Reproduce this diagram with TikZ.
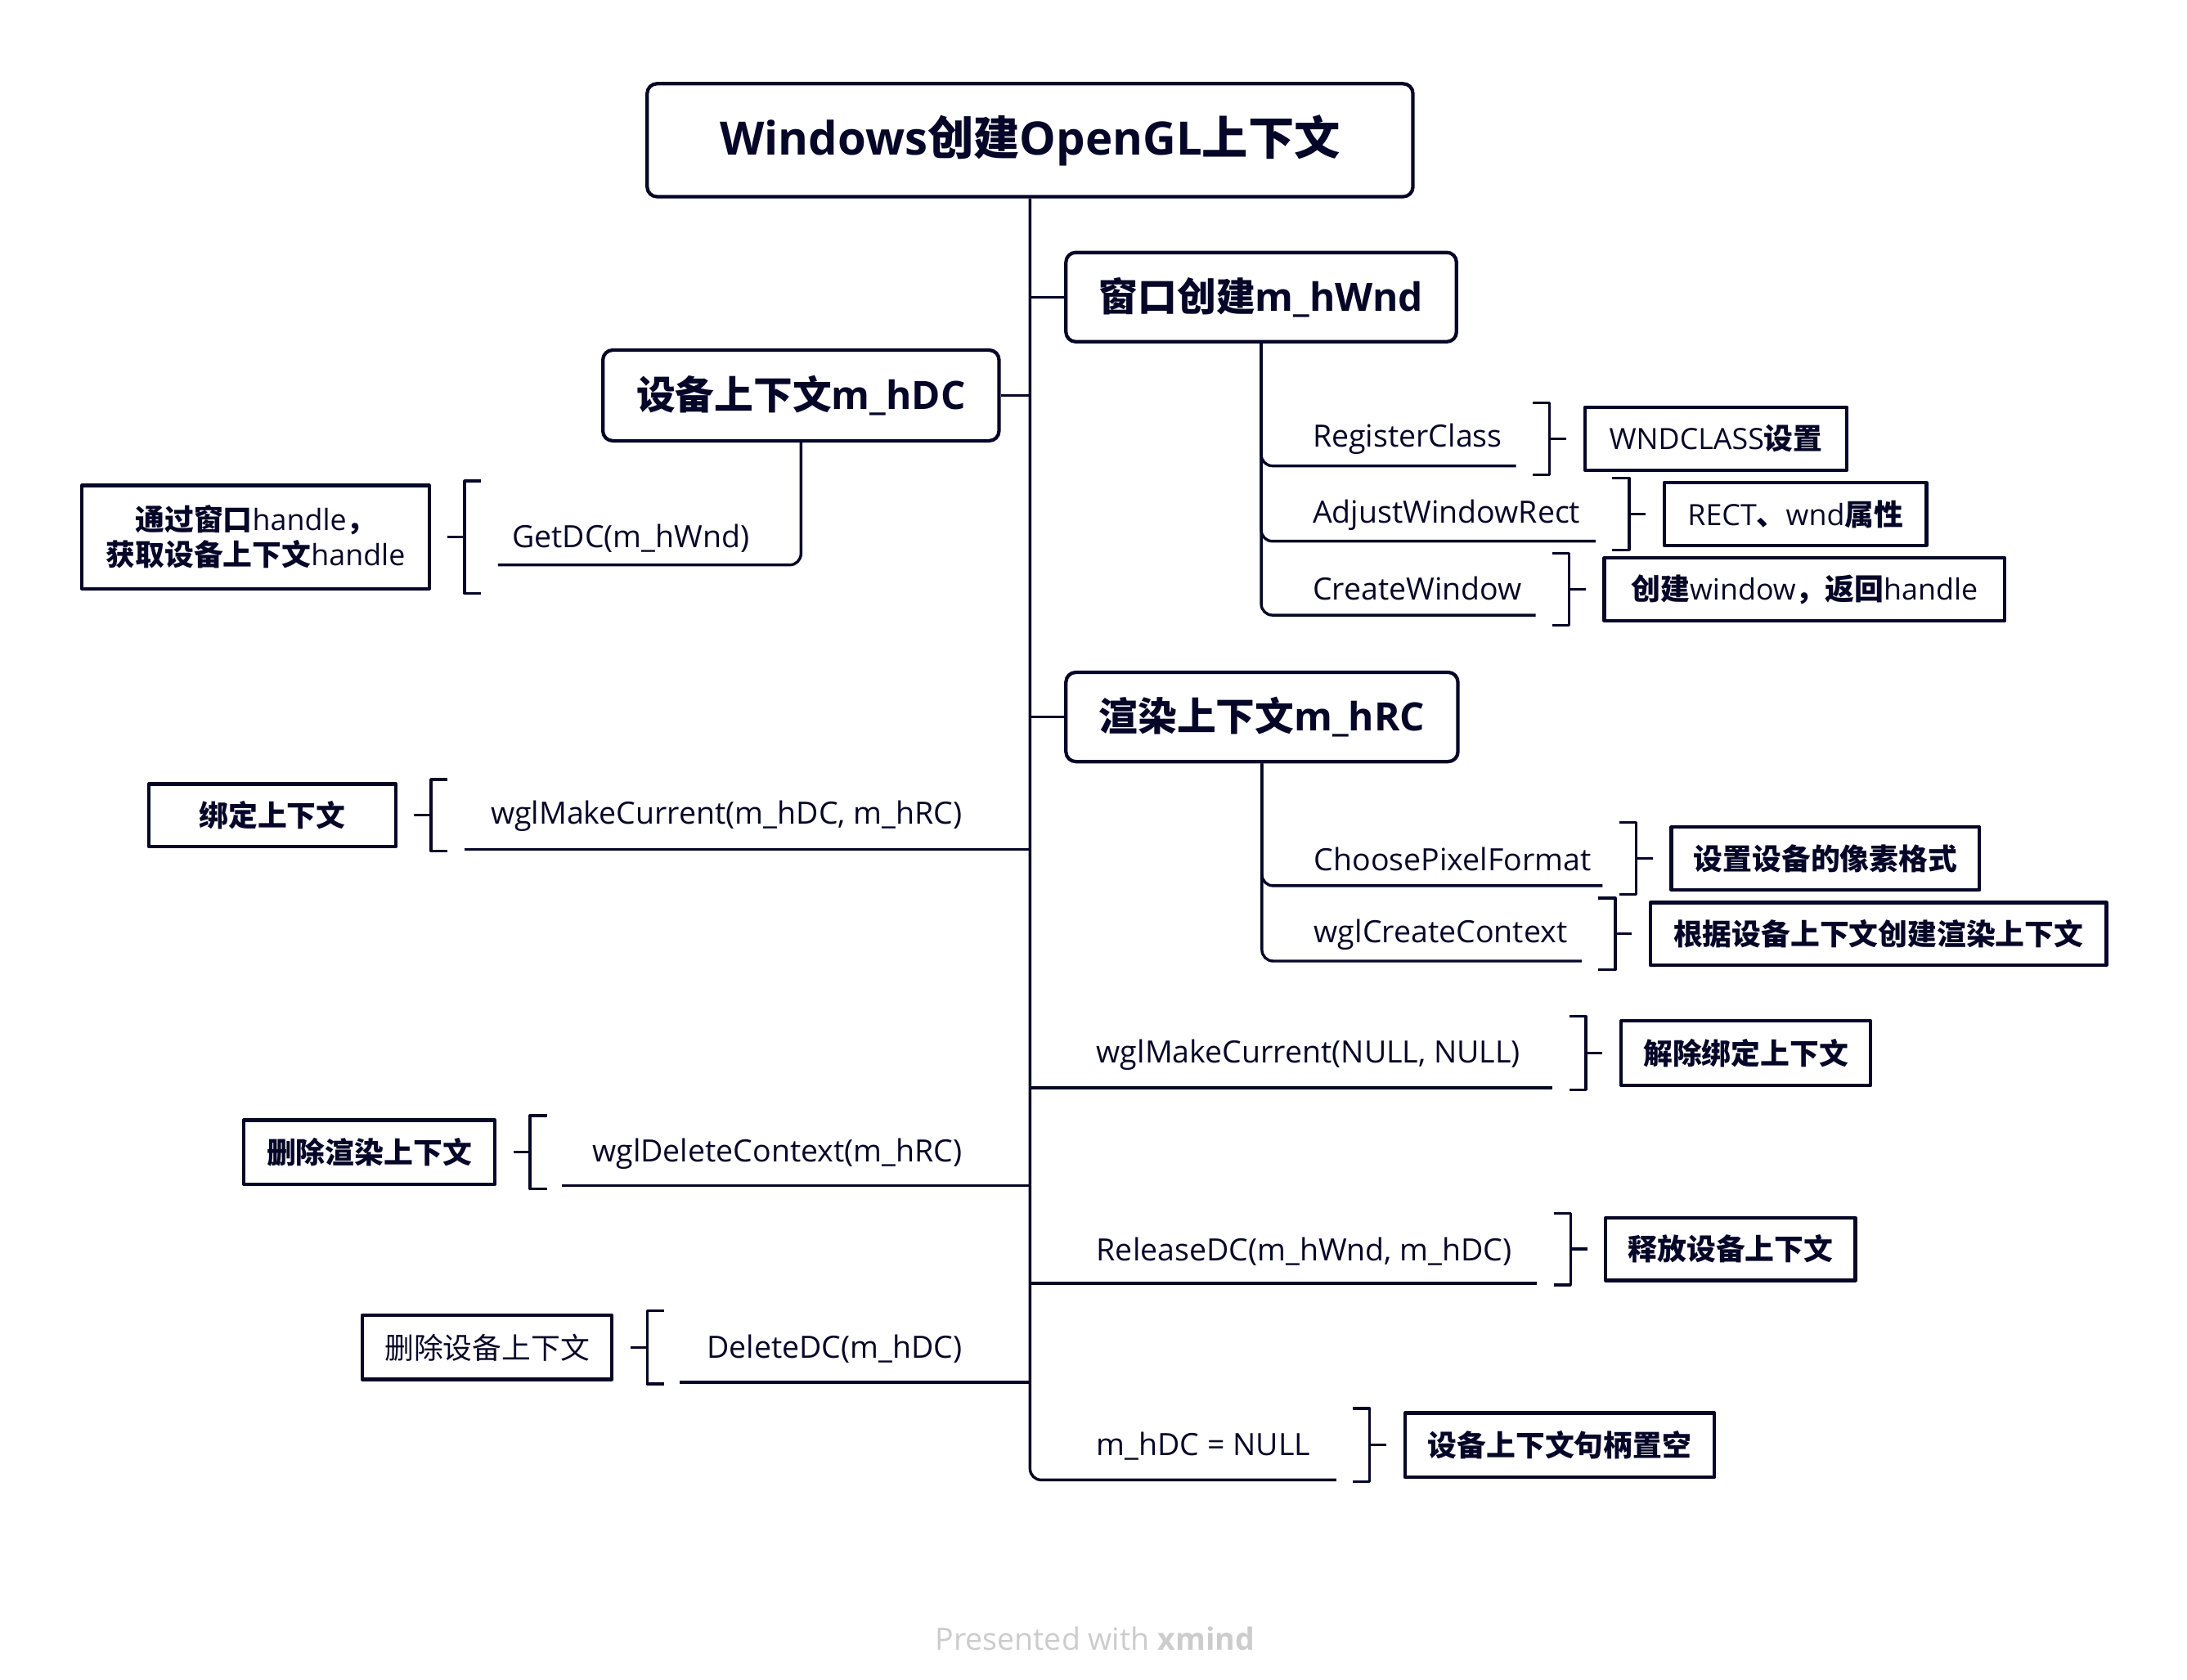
\documentclass[tikz,border=0pt]{standalone}
\usepackage{fontspec}
\setmainfont{Open Sans}
\newfontfamily\zh{Noto Sans CJK SC}
\definecolor{ink}{RGB}{6,6,40}
\definecolor{wmgray}{RGB}{204,204,204}
\newcommand\hz[1]{{\zh\bfseries #1}}
\begin{document}
\begin{tikzpicture}[x=1pt, y=-1pt, line join=round, draw=ink, text=ink,
    root/.style={draw, rounded corners=7pt, line width=2.5pt, minimum width=549pt, minimum height=81pt, font=\fontsize{33}{40}\selectfont\bfseries},
    topic/.style={draw, rounded corners=7pt, line width=2.5pt, minimum height=64pt, anchor=west, font=\fontsize{28}{34}\selectfont\bfseries},
    leaf/.style={inner sep=0pt, font=\fontsize{22}{26}\selectfont},
    note/.style={draw, line width=2.5pt, minimum height=45pt, inner sep=0pt, align=center, font=\fontsize{21}{25}\selectfont},
    wire/.style={line width=2pt, rounded corners=8pt}]
  \useasboundingbox (0,0) rectangle (1568,1204);
  \node[root] (root) at (738.5,100.5) {Windows{\zh 创建}OpenGL{\zh 上下文}};
  \node[topic, minimum width=280pt] (wnd) at (763,213) {{\zh 窗口创建}m\_hWnd};
  \node[topic, minimum width=284pt, minimum height=65pt] (hdc) at (431,283.5) {{\zh 设备上下文}m\_hDC};
  \node[topic, minimum width=281pt] (hrc) at (763,514) {{\zh 渲染上下文}m\_hRC};

  \node[leaf, anchor=west] (rcls) at (941,315) {RegisterClass};
  \node[leaf, anchor=west] (awr) at (941,369) {AdjustWindowRect};
  \node[leaf, anchor=west] (cwin) at (941,422) {CreateWindow};
  \node[leaf, anchor=west] (cpf) at (942,616) {ChoosePixelFormat};
  \node[leaf, anchor=west] (wcc) at (942,670) {wglCreateContext};
  \node[leaf, anchor=west] (mcnull) at (786,756) {wglMakeCurrent(NULL, NULL)};
  \node[leaf, anchor=west] (reldc) at (786,897) {ReleaseDC(m\_hWnd, m\_hDC)};
  \node[leaf, anchor=west] (dcnull) at (786,1037) {m\_hDC = NULL};
  \node[leaf, anchor=west] (getdc) at (367,386) {GetDC(m\_hWnd)};
  \node[leaf, anchor=east] (mcur) at (690,585) {wglMakeCurrent(m\_hDC, m\_hRC)};
  \node[leaf, anchor=east] (delrc) at (690,827) {wglDeleteContext(m\_hRC)};
  \node[leaf, anchor=east] (deldc) at (690,967) {DeleteDC(m\_hDC)};

  \node[note, anchor=west, minimum width=188pt] (nA) at (1135,314.5) {WNDCLASS\hz{设置}};
  \node[note, anchor=west, minimum width=188pt] (nB) at (1192,368.5) {RECT\hz{、}wnd\hz{属性}};
  \node[note, anchor=west, minimum width=287pt] (nC) at (1149,422.5) {\hz{创建}window\hz{，返回}handle};
  \node[note, anchor=west, minimum width=221pt] (nD) at (1197,615.5) {\hz{设置设备的像素格式}};
  \node[note, anchor=west, minimum width=327pt] (nE) at (1182,669.5) {\hz{根据设备上下文创建渲染上下文}};
  \node[note, anchor=west, minimum width=179pt, minimum height=46pt] (nF) at (1161,755) {\hz{解除绑定上下文}};
  \node[note, anchor=west, minimum width=179pt] (nG) at (1150,895.5) {\hz{释放设备上下文}};
  \node[note, anchor=west, minimum width=222pt, minimum height=46pt] (nH) at (1006,1036) {\hz{设备上下文句柄置空}};
  \node[note, anchor=east, minimum width=249pt, minimum height=74pt] (nL) at (309,385) {\hz{通过窗口}handle\hz{，}\\\hz{获取设备上下文}handle};
  \node[note, anchor=east, minimum width=177pt] (nI) at (285,584.5) {\hz{绑定上下文}};
  \node[note, anchor=east, minimum width=180pt, minimum height=46pt] (nJ) at (356,826) {\hz{删除渲染上下文}};
  \node[note, anchor=east, minimum width=179pt, minimum height=46pt] (nK) at (440,966) {{\zh 删除设备上下文}};

  \coordinate (rclsE) at (1087,334);
  \coordinate (awrE) at (1144,388);
  \coordinate (cwinE) at (1101,441);
  \coordinate (cpfE) at (1149,635);
  \coordinate (wccE) at (1134,689);
  \coordinate (mcnullE) at (1113,780);
  \coordinate (reldcE) at (1102,920);
  \coordinate (dcnullE) at (958,1061);
  \coordinate (getdcS) at (357,405);
  \coordinate (mcurS) at (333,609);
  \coordinate (delrcS) at (403,850);
  \coordinate (deldcS) at (487,991);

  \draw[wire] (root.south) |- (dcnullE);
  \draw[wire] (root.south |- wnd.west) -- (wnd.west);
  \draw[wire] (root.south |- hdc.east) -- (hdc.east);
  \draw[wire] (root.south |- hrc.west) -- (hrc.west);
  \foreach \e in {rclsE,awrE,cwinE} \draw[wire] (wnd.south) |- (\e);
  \foreach \e in {cpfE,wccE} \draw[wire] (hrc.south) |- (\e);
  \draw[wire] (hdc.south) |- (getdcS);
  \foreach \e in {mcnullE,reldcE,mcurS,delrcS,deldcS} \draw[wire] (root.south |- \e) -- (\e);

  \foreach \n in {nA,nB,nC,nD,nE,nF,nG,nH}{
    \draw[line width=2pt] ([xshift=-36pt,yshift=2pt]\n.north west) -| ([xshift=-24pt,yshift=-2pt]\n.south west) -- ++(-12pt,0);
    \draw[line width=2pt] ([xshift=-24pt]\n.west) -- ++(12pt,0);
  }
  \foreach \n in {nL,nI,nJ,nK}{
    \draw[line width=2pt] ([xshift=36pt,yshift=2pt]\n.north east) -| ([xshift=24pt,yshift=-2pt]\n.south east) -- ++(12pt,0);
    \draw[line width=2pt] ([xshift=24pt]\n.east) -- ++(-12pt,0);
  }

  \node[text=wmgray, font=\fontsize{22}{26}\selectfont] (wmark) at (785,1175) {Presented with \textbf{xmind}};
\end{tikzpicture}
\end{document}
